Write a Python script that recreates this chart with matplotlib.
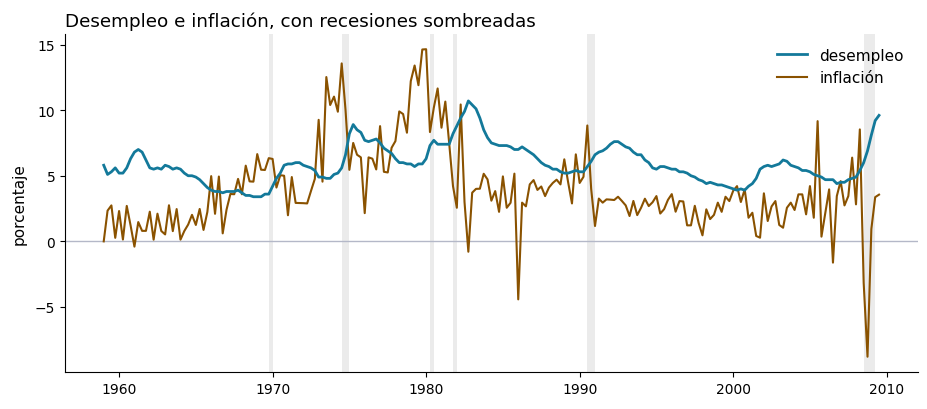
import numpy as np
import pandas as pd
import matplotlib
matplotlib.use("Agg")
import matplotlib.pyplot as plt

# Quarterly periods 1959Q1 - 2009Q3
periods = pd.period_range("1959Q1", "2009Q3", freq="Q")

unemp = [
    5.8, 5.1, 5.3, 5.6,   5.2, 5.2, 5.6, 6.3,   6.8, 7.0, 6.8, 6.2,
    5.6, 5.5, 5.6, 5.5,   5.8, 5.7, 5.5, 5.6,   5.5, 5.2, 5.0, 5.0,
    4.9, 4.7, 4.4, 4.1,   3.9, 3.8, 3.8, 3.7,   3.8, 3.8, 3.8, 3.9,
    3.7, 3.5, 3.5, 3.4,   3.4, 3.4, 3.6, 3.6,   4.2, 4.8, 5.2, 5.8,
    5.9, 5.9, 6.0, 6.0,   5.8, 5.7, 5.6, 5.4,   4.9, 4.9, 4.8, 4.8,
    5.1, 5.2, 5.6, 6.6,   8.2, 8.9, 8.5, 8.3,   7.7, 7.6, 7.7, 7.8,
    7.5, 7.1, 6.9, 6.7,   6.3, 6.0, 6.0, 5.9,   5.9, 5.7, 5.9, 5.9,
    6.3, 7.3, 7.7, 7.4,   7.4, 7.4, 7.4, 8.2,   8.8, 9.4, 9.9, 10.7,
    10.4, 10.1, 9.4, 8.5, 7.9, 7.5, 7.4, 7.3,   7.3, 7.3, 7.2, 7.0,
    7.0, 7.2, 7.0, 6.8,   6.6, 6.3, 6.0, 5.8,   5.7, 5.5, 5.5, 5.3,
    5.2, 5.2, 5.3, 5.4,   5.3, 5.3, 5.7, 6.1,   6.6, 6.8, 6.9, 7.1,
    7.4, 7.6, 7.6, 7.4,   7.2, 7.1, 6.8, 6.6,   6.6, 6.2, 6.0, 5.6,
    5.5, 5.7, 5.7, 5.6,   5.5, 5.5, 5.3, 5.3,   5.2, 5.0, 4.9, 4.7,
    4.6, 4.4, 4.5, 4.4,   4.3, 4.3, 4.2, 4.1,   4.0, 3.9, 4.0, 3.9,
    4.2, 4.4, 4.8, 5.5,   5.7, 5.8, 5.7, 5.8,   5.9, 6.2, 6.1, 5.8,
    5.7, 5.6, 5.4, 5.4,   5.3, 5.1, 5.0, 4.9,   4.7, 4.7, 4.7, 4.4,
    4.5, 4.5, 4.7, 4.8,   4.9, 5.4, 6.0, 6.9,   8.1, 9.2, 9.6,
]

infl = [
    0.00, 2.34, 2.74, 0.27,   2.31, 0.14, 2.70, 1.21,   -0.40, 1.47, 0.80, 0.80,
    2.26, 0.13, 2.11, 0.79,   0.53, 2.75, 0.78, 2.46,   0.13, 0.79, 1.28, 2.02,
    1.25, 2.47, 0.87, 2.24,   4.97, 2.10, 4.94, 0.61,   2.42, 3.61, 3.59, 4.76,
    3.59, 5.77, 4.57, 4.55,   6.65, 5.46, 5.44, 6.34,   6.28, 4.10, 5.04, 5.00,
    1.99, 4.90, 2.93, 2.92,   2.91, 2.89, 3.84, 4.76,   9.26, 4.55, 12.52, 10.39,
    11.03, 9.88, 13.56, 10.01, 5.45, 7.50, 6.60, 6.40,  2.15, 6.40, 6.30, 5.48,
    8.78, 5.30, 5.25, 7.13,   7.64, 9.90, 9.70, 8.28,   12.21, 13.40, 11.90, 14.62,
    14.64, 8.33, 10.18, 11.65, 8.66, 10.65, 7.50, 4.21,  2.56, 10.43, 3.00, -0.79,
    3.71, 4.00, 4.01, 5.15,   4.72, 3.10, 3.83, 2.25,   4.95, 2.56, 2.94, 5.16,
    -4.42, 2.95, 2.67, 4.34,  4.67, 3.92, 4.18, 3.45,   4.10, 4.45, 4.70, 4.34,
    6.25, 4.50, 2.89, 6.63,   4.45, 4.92, 8.83, 4.00,   1.17, 3.26, 2.95, 3.20,
    3.18, 3.15, 3.40, 3.08,   2.74, 1.93, 3.08, 2.00,   2.56, 3.25, 2.69, 2.98,
    3.45, 2.12, 2.45, 3.16,   3.60, 2.26, 3.07, 3.04,   1.22, 1.22, 2.71, 1.40,
    0.46, 2.44, 1.70, 2.02,   2.95, 2.25, 3.40, 3.07,   3.85, 4.21, 3.00, 3.96,
    1.80, 2.18, 0.41, 0.28,   3.66, 1.55, 2.66, 3.07,   1.25, 1.04, 2.56, 2.95,
    2.39, 3.58, 3.58, 2.06,   4.21, 1.80, 9.16, 0.36,   2.18, 3.96, -1.62, 3.45,
    4.59, 2.74, 3.45, 6.38,   2.82, 8.53, -3.16, -8.79, 0.94, 3.37, 3.56,
]

recessions = [(1969.75, 1970.0), (1974.5, 1975.0), (1980.25, 1980.5),
              (1981.75, 1982.0), (1990.5, 1991.0), (2008.5, 2009.25)]

title = "Desempleo e inflación, con recesiones sombreadas"
ylabel = "porcentaje"
labels = ["desempleo", "inflación"]

t = periods.year + (periods.quarter - 1) / 4.0

fig = plt.figure(figsize=(9.28, 4.10), dpi=100)
ax = fig.add_axes([0.070, 0.090, 0.919, 0.825])

for s, e in recessions:
    ax.axvspan(s, e, color="#ebebeb", lw=0, zorder=0)

ax.axhline(0, color="#b4b8c8", lw=1.0, zorder=1)
ax.plot(t, unemp, color="#13799a", lw=2.0, label=labels[0], zorder=3)
ax.plot(t, infl, color="#8a5200", lw=1.5, label=labels[1], zorder=2)

ax.margins(x=0.05, y=0.05)
ax.set_yticks([-5, 0, 5, 10, 15])
ax.set_xticks([1960, 1970, 1980, 1990, 2000, 2010])
ax.tick_params(labelsize=10)
ax.spines["top"].set_visible(False)
ax.spines["right"].set_visible(False)
ax.set_ylabel(ylabel, fontsize=11, labelpad=6)
ax.set_title(title, loc="left", fontsize=13.2)
ax.legend(loc="upper right", frameon=False, fontsize=11)

fig.savefig("out.png", dpi=100)
